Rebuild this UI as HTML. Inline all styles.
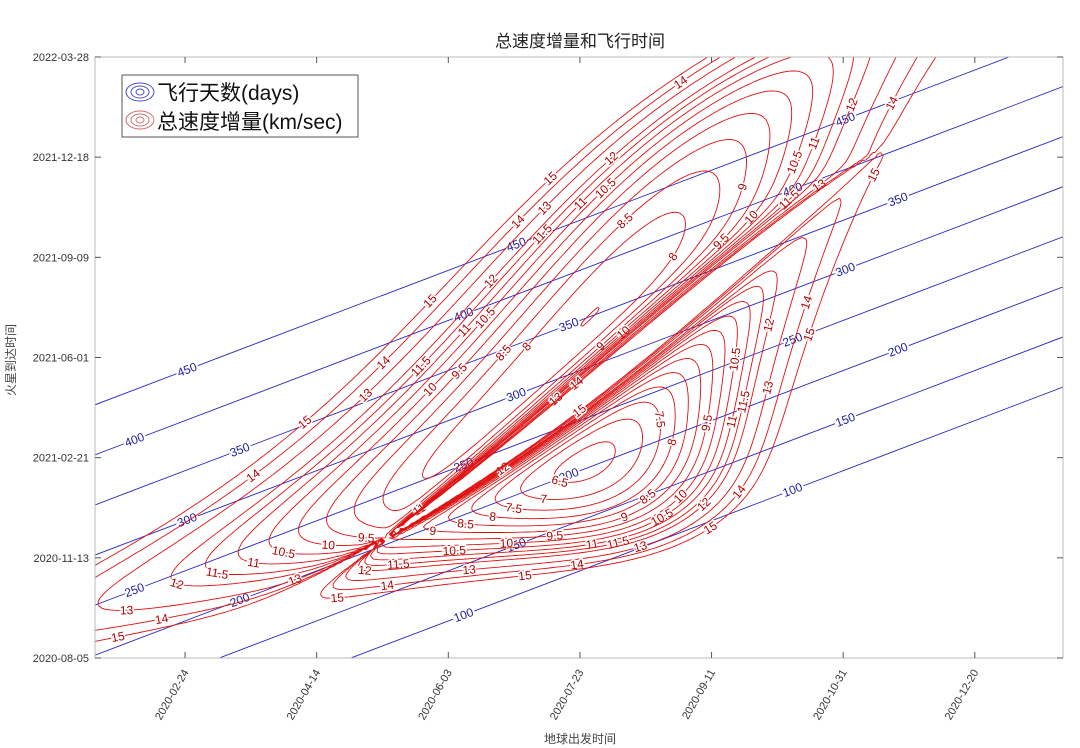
<!DOCTYPE html>
<html><head><meta charset="utf-8">
<style>
html,body{margin:0;padding:0;background:#fff;width:1080px;height:748px;overflow:hidden}
svg text{font-family:"Liberation Sans","Noto Sans CJK SC",sans-serif}
</style></head>
<body>
<svg id="chart" width="1080" height="748" viewBox="0 0 1080 748" xmlns="http://www.w3.org/2000/svg">
<defs><clipPath id="plotclip"><rect x="95" y="57" width="968" height="601"/></clipPath></defs>
<rect x="0" y="0" width="1080" height="748" fill="#fff"/>
<text x="580" y="47" font-size="17" text-anchor="middle" fill="#222">总速度增量和飞行时间</text>
<g id="plot" clip-path="url(#plotclip)"></g>
<rect x="95" y="57" width="968" height="601" fill="none" stroke="#bbb" stroke-width="1"/>
<g id="axes"></g>
<text x="580" y="743" font-size="12" text-anchor="middle" fill="#444">地球出发时间</text>
<text x="0" y="0" font-size="12" text-anchor="middle" fill="#444" transform="translate(15,360) rotate(-90)">火星到达时间</text>
<g>
<rect x="122" y="75" width="236" height="62" fill="#fff" stroke="#555" stroke-width="1"/>
<g fill="none" stroke="#5050c0" stroke-width="1">
<ellipse cx="140" cy="92" rx="14" ry="9"/><ellipse cx="140" cy="92" rx="9" ry="6"/><ellipse cx="140" cy="92" rx="4" ry="3"/></g>
<text x="157" y="100" font-size="21" fill="#111">飞行天数(days)</text>
<g fill="none" stroke="#d07070" stroke-width="1">
<ellipse cx="140" cy="120" rx="14" ry="9"/><ellipse cx="140" cy="120" rx="9" ry="6"/><ellipse cx="140" cy="120" rx="4" ry="3"/></g>
<text x="157" y="129" font-size="21" fill="#111">总速度增量(km/sec)</text>
</g>
</svg>
<script>
// ---- chart data ----
const xTickLabels = ["2020-02-24","2020-04-14","2020-06-03","2020-07-23","2020-09-11","2020-10-31","2020-12-20"];
const xTickDays = [54,104,154,204,254,304,354]; // days since 2020-01-01
const yTickLabels = ["2020-08-05","2020-11-13","2021-02-21","2021-06-01","2021-09-09","2021-12-18","2022-03-28"];
const yTickDays = [217,317,417,517,617,717,817];
const tofLevels = [100,150,200,250,300,350,400,450];
const dvLevels = [6.5,7,7.5,8,8.5,9,9.5,10,10.5,11,11.5,12,13,14,15];
// orbital elements: a(AU), e, I(deg), L0(deg), varpi(deg), Omega(deg), Ldot(deg/century)
const earthElements = [1.00000261,0.01671123,-0.00001531,100.46457166,102.93768193,0.0,35999.37244981];
const marsElements = [1.52371034,0.09339410,1.84969142,-4.55343205,-23.94362959,49.55953891,19140.30268499];

const NS="http://www.w3.org/2000/svg";
const X0=95,X1=1063,Y0=57,Y1=658;
const DEP_MIN=19.8, DEP_MAX=387.5, ARR_MIN=217, ARR_MAX=817;
function xs(d){return X0+(d-DEP_MIN)/(DEP_MAX-DEP_MIN)*(X1-X0);}
function ys(a){return Y1-(a-ARR_MIN)/(ARR_MAX-ARR_MIN)*(Y1-Y0);}
const plot=document.getElementById('plot'), axes=document.getElementById('axes');
function mk(tag,attrs,parent){const e=document.createElementNS(NS,tag);for(const k in attrs)e.setAttribute(k,attrs[k]);parent.appendChild(e);return e;}

// axes ticks
xTickDays.forEach((d,i)=>{
  const x=xs(d);
  const t=mk('line',{x1:x,y1:Y1,x2:x,y2:Y1-6,stroke:'#555'},axes);
  
  
  const t2=mk('line',{x1:x,y1:Y0,x2:x,y2:Y0+6,stroke:'#555'},axes);
  
  
  const tx=mk('text',{x:x+4,y:672,'font-size':11,'text-anchor':'end',fill:'#333',transform:`rotate(-60 ${x+4} 672)`},axes);
  tx.textContent=xTickLabels[i];
  
  
});
yTickDays.forEach((a,i)=>{
  const y=ys(a);
  const t=mk('line',{x1:X0,y1:y,x2:X0+6,y2:y,stroke:'#555'},axes);
  
  
  const t2=mk('line',{x1:X1,y1:y,x2:X1-6,y2:y,stroke:'#555'},axes);
  
  
  const tx=mk('text',{x:89,y:y+4,'font-size':11,'text-anchor':'end',fill:'#333'},axes);
  tx.textContent=yTickLabels[i];
  
  
});

// ---- ephemeris ----
const MU=1.32712440018e11, AU=1.495978707e8, DEG=Math.PI/180;
function state(el,day){
  const T=(2458849.5+day-2451545.0)/36525;
  const a=el[0]*AU,e=el[1],I=el[2]*DEG,L=(el[3]+el[6]*T)*DEG,vp=el[4]*DEG,Om=el[5]*DEG;
  const w=vp-Om; let M=(L-vp)%(2*Math.PI);
  let E=M; for(let k=0;k<12;k++)E=E-(E-e*Math.sin(E)-M)/(1-e*Math.cos(E));
  const nu=2*Math.atan2(Math.sqrt(1+e)*Math.sin(E/2),Math.sqrt(1-e)*Math.cos(E/2));
  const p=a*(1-e*e), r=p/(1+e*Math.cos(nu));
  const px=r*Math.cos(nu),py=r*Math.sin(nu);
  const k=Math.sqrt(MU/p), vx=-k*Math.sin(nu), vy=k*(e+Math.cos(nu));
  const cO=Math.cos(Om),sO=Math.sin(Om),cw=Math.cos(w),sw=Math.sin(w),cI=Math.cos(I),sI=Math.sin(I);
  const R=[[cO*cw-sO*sw*cI,-cO*sw-sO*cw*cI],[sO*cw+cO*sw*cI,-sO*sw+cO*cw*cI],[sw*sI,cw*sI]];
  return {r:[R[0][0]*px+R[0][1]*py,R[1][0]*px+R[1][1]*py,R[2][0]*px+R[2][1]*py],
          v:[R[0][0]*vx+R[0][1]*vy,R[1][0]*vx+R[1][1]*vy,R[2][0]*vx+R[2][1]*vy]};
}
function Cf(z){if(z>1e-8){const s=Math.sqrt(z);return (1-Math.cos(s))/z;}if(z<-1e-8){const s=Math.sqrt(-z);return (Math.cosh(s)-1)/(-z);}return 0.5;}
function Sf(z){if(z>1e-8){const s=Math.sqrt(z);return (s-Math.sin(s))/(s*s*s);}if(z<-1e-8){const s=Math.sqrt(-z);return (Math.sinh(s)-s)/(s*s*s);}return 1/6;}
function norm(v){return Math.hypot(v[0],v[1],v[2]);}
function lambert(r1v,r2v,dt){
  const r1=norm(r1v),r2=norm(r2v);
  const cz=r1v[0]*r2v[1]-r1v[1]*r2v[0];
  let c=(r1v[0]*r2v[0]+r1v[1]*r2v[1]+r1v[2]*r2v[2])/(r1*r2); c=Math.max(-1,Math.min(1,c));
  let th=Math.acos(c); if(cz<0)th=2*Math.PI-th;
  const A=Math.sin(th)*Math.sqrt(r1*r2/(1-Math.cos(th)));
  if(!isFinite(A)||Math.abs(A)<1e-6)return null;
  const yf=z=>r1+r2+A*(z*Sf(z)-1)/Math.sqrt(Cf(z));
  const sm=Math.sqrt(MU)*dt;
  let lo=-60,hi=4*Math.PI*Math.PI-1e-6;
  for(let k=0;k<70;k++){
    const z=(lo+hi)/2,y=yf(z);
    if(y<0){lo=z;continue;}
    const F=Math.pow(y/Cf(z),1.5)*Sf(z)+A*Math.sqrt(y)-sm;
    if(F<0)lo=z;else hi=z;
  }
  const z=(lo+hi)/2,y=yf(z); if(!(y>0))return null;
  const f=1-y/r1,g=A*Math.sqrt(y/MU),gd=1-y/r2;
  return [[0,1,2].map(i=>(r2v[i]-f*r1v[i])/g),[0,1,2].map(i=>(gd*r2v[i]-r1v[i])/g)];
}
// ---- grid ----
const NX=260,NY=170;
const grid=[];
for(let j=0;j<=NY;j++){
  const a=ARR_MIN+(ARR_MAX-ARR_MIN)*j/NY; const row=[];
  const M=state(marsElements,a);
  for(let i=0;i<=NX;i++){
    const d=DEP_MIN+(DEP_MAX-DEP_MIN)*i/NX; const tof=a-d;
    let val=99;
    if(tof>20){
      const E=state(earthElements,d);
      const s=lambert(E.r,M.r,tof*86400);
      if(s){val=norm([s[0][0]-E.v[0],s[0][1]-E.v[1],s[0][2]-E.v[2]])+norm([s[1][0]-M.v[0],s[1][1]-M.v[1],s[1][2]-M.v[2]]);
        if(!isFinite(val)||val>99)val=99;}
    }
    row.push(val);
  }
  grid.push(row);
}
const gx=i=>X0+(X1-X0)*i/NX, gy=j=>Y1-(Y1-Y0)*j/NY;

// ---- TOF lines ----
tofLevels.forEach((L,li)=>{
  const p=mk('line',{x1:xs(DEP_MIN),y1:ys(DEP_MIN+L),x2:xs(DEP_MAX),y2:ys(DEP_MAX+L),stroke:'#2828c0','stroke-width':0.9},plot);
  
  
  const ang=Math.atan2(ys(DEP_MAX+L)-ys(DEP_MIN+L),xs(DEP_MAX)-xs(DEP_MIN))*180/Math.PI;
  for(let d=DEP_MIN+15+(li%3)*20;d<DEP_MAX;d+=125){
    const x=xs(d),y=ys(d+L); if(y<62||y>650)continue;
    const t=mk('text',{x:x,y:y+4,'font-size':12,'text-anchor':'middle',fill:'#1a1aa0',stroke:'#fff','stroke-width':4,'paint-order':'stroke',transform:`rotate(${ang} ${x} ${y})`},plot);
    t.textContent=String(L);
    
    
  }
});

// ---- delta-v contours (marching squares) ----
const allLabels=[];
dvLevels.forEach(L=>{
  let dstr=''; const segs=[];
  for(let j=0;j<NY;j++)for(let i=0;i<NX;i++){
    const v=[grid[j][i],grid[j][i+1],grid[j+1][i+1],grid[j+1][i]];
    const P=[[gx(i),gy(j)],[gx(i+1),gy(j)],[gx(i+1),gy(j+1)],[gx(i),gy(j+1)]];
    const pts=[];
    for(let k=0;k<4;k++){const a=v[k],b=v[(k+1)%4];
      if((a<L)!==(b<L)){const t=(L-a)/(b-a);pts.push([P[k][0]+t*(P[(k+1)%4][0]-P[k][0]),P[k][1]+t*(P[(k+1)%4][1]-P[k][1])]);}}
    for(let k=0;k+1<pts.length;k+=2){
      dstr+=`M${pts[k][0].toFixed(1)} ${pts[k][1].toFixed(1)}L${pts[k+1][0].toFixed(1)} ${pts[k+1][1].toFixed(1)}`;
      segs.push([pts[k],pts[k+1]]);
    }
  }
  const p=mk('path',{d:dstr,fill:'none',stroke:'#e01010','stroke-width':0.9},plot);
  
  
  const mine=[];
  for(let s=0;s<segs.length;s+=7){
    const [a,b]=segs[s]; const cx=(a[0]+b[0])/2, cy=(a[1]+b[1])/2;
    if(cx<110||cx>1050||cy<70||cy>650)continue;
    if(mine.some(q=>Math.hypot(q[0]-cx,q[1]-cy)<170))continue;
    if(allLabels.some(q=>Math.hypot(q[0]-cx,q[1]-cy)<22))continue;
    mine.push([cx,cy]);allLabels.push([cx,cy]);
    let ang=Math.atan2(b[1]-a[1],b[0]-a[0])*180/Math.PI; if(ang>90)ang-=180; if(ang<-90)ang+=180;
    const t=mk('text',{x:cx,y:cy+4,'font-size':12,'text-anchor':'middle',fill:'#b00000',stroke:'#fff','stroke-width':3,'paint-order':'stroke',transform:`rotate(${ang} ${cx} ${cy})`},plot);
    t.textContent=String(L);
    
    
  }
});
</script>
</body></html>
